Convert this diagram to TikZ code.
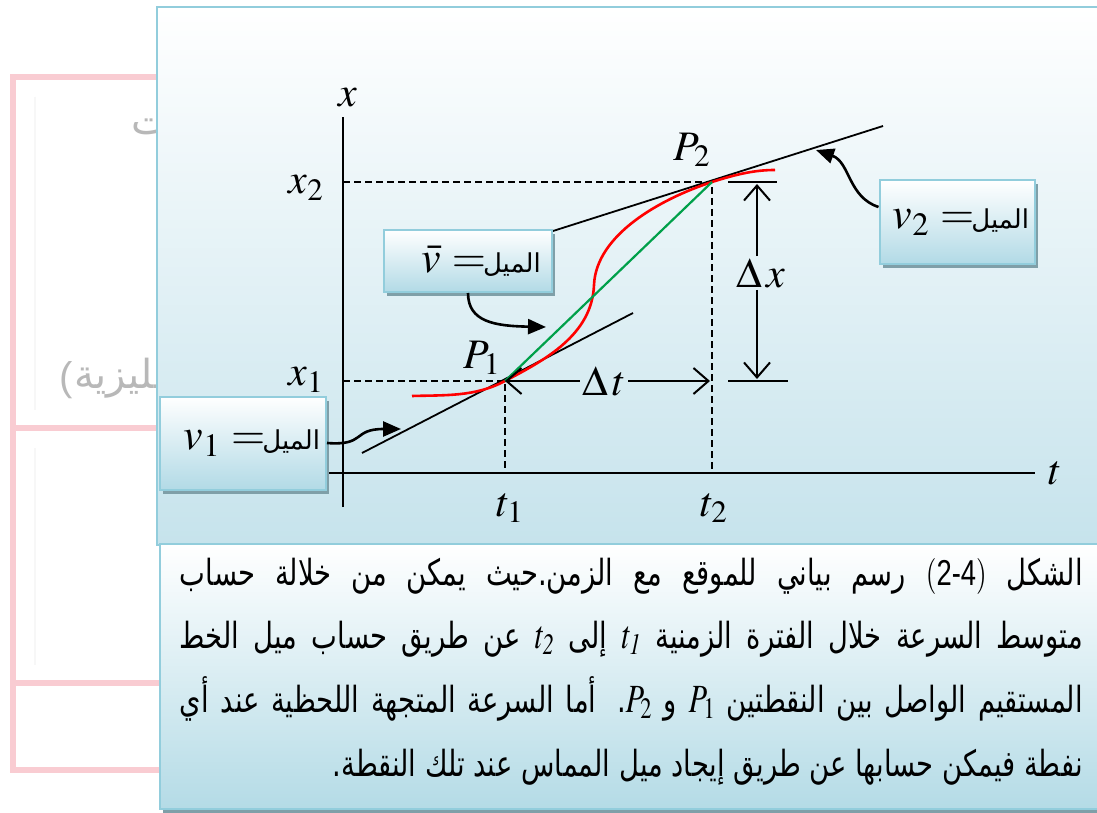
\documentclass[tikz,border=0pt]{standalone}
\usepackage{mathptmx}
\usepackage{fontspec}
\setmainfont{Liberation Serif}
\newfontfamily\arabicfont[Script=Arabic]{DejaVu Sans}
\newfontfamily\latinsans{Liberation Sans}
\TeXXeTstate=1
\usetikzlibrary{arrows.meta, shadows}
\definecolor{edgeblue}{HTML}{92CDDC}
\definecolor{panelblue}{HTML}{C6E3EC}
\definecolor{capblue}{HTML}{B4DBE6}
\definecolor{boxblue}{HTML}{B2DAE6}
\definecolor{shadowc}{HTML}{7F9FA8}
\definecolor{pinkc}{HTML}{F9CCD2}
\definecolor{chordg}{HTML}{00A04A}
\newcommand{\capline}[1]{\scalebox{0.76}[1]{\makebox[1188pt][s]{\beginR #1\endR}}}
\newcommand{\capmath}[1]{\mbox{\fontsize{40}{42}\selectfont$#1$}}
\newcommand{\capsans}[1]{\mbox{\latinsans\fontsize{36}{40}\selectfont #1}}
\newcommand{\mayl}{{\arabicfont\fontsize{26}{30}\selectfont\beginR الميل\endR}}
\tikzset{
    panel/.style={draw=edgeblue, line width=2.5pt, top color=white},
    callout/.style={rectangle, draw=edgeblue, line width=2pt, top color=white, bottom color=boxblue, inner sep=0pt,
        drop shadow={shadow xshift=3pt, shadow yshift=-4pt, fill=shadowc, opacity=1}, font=\fontsize{44}{48}\selectfont},
    lbl/.style={inner sep=2pt, font=\fontsize{42}{46}\selectfont},
    axis/.style={line width=2pt, black},
    guide/.style={dash pattern=on 7pt off 4pt, line width=1.6pt},
    tang/.style={line width=1.8pt, black},
    curv/.style={line width=2.6pt, red},
    chord/.style={line width=2.2pt, chordg},
    dim/.style={line width=2pt, -{Straight Barb[length=15pt,width=26pt]}},
    callarr/.style={line width=2.6pt, -{Triangle[length=18pt,width=15pt]}},
    captxt/.style={inner sep=0pt, font=\arabicfont\fontsize{36}{40}\selectfont},
    ghost/.style={inner sep=0pt, text=black!28, font=\arabicfont\fontsize{40}{44}\selectfont},
    pinkline/.style={line width=6pt, pinkc}
}

\begin{document}
\begin{tikzpicture}[x=1pt, y=-1pt]
    \useasboundingbox (0,0) rectangle (1097,813);
    \fill[white] (0,0) rectangle (1097,813);

    % الصفحة الخلفية
    \draw[pinkline] (13,77) -- (13,770);
    \foreach \yy in {77,428,683,770}
        \draw[pinkline] (10,\yy) -- (160,\yy);
    \draw[black!3, line width=2pt] (35,97) -- (35,410) (35,448) -- (35,665);
    \node[ghost, anchor=west] (gt) at (131,122) {\beginR الكميات\endR};
    \node[ghost, font=\latinsans\fontsize{40}{44}\selectfont] (gp) at (66,380) {(};
    \node[ghost, anchor=west] (gz) at (74,378) {\beginR بالإنجليزية\endR};

    % اللوحتان
    \shade[panel, bottom color=panelblue] (157,7) rectangle (1104,545);
    \fill[shadowc] (163,549) rectangle (1104,813);
    \shade[panel, bottom color=capblue] (160,544) rectangle (1104,809);

    % المحاور
    \coordinate (xtop) at (343,117);
    \coordinate (xbot) at (343,507);
    \coordinate (tleft) at (275,473);
    \coordinate (tright) at (1035,473);
    \draw[axis] (xbot) -- (xtop);
    \draw[axis] (tleft) -- (tright);
    \node[lbl] (xlab) at (348,98) {$x$};
    \node[lbl] (tlab) at (1055,473) {$t$};

    % النقاط
    \coordinate (P1) at (505,381);
    \coordinate (P2) at (712,182);
    \coordinate (x1) at (343,381);
    \coordinate (x2) at (343,182);
    \coordinate (t1) at (505,473);
    \coordinate (t2) at (712,473);
    \draw[guide] (x2) -- (P2) -- (t2);
    \draw[guide] (x1) -- (P1) -- (t1);
    \node[lbl] (x2lab) at (306,188) {$x_2$};
    \node[lbl] (x1lab) at (306,380) {$x_1$};
    \node[lbl] (t1lab) at (510,508) {$t_1$};
    \node[lbl] (t2lab) at (714,508) {$t_2$};
    \node[lbl] (P1lab) at (482,358) {$P_1$};
    \node[lbl] (P2lab) at (692,150) {$P_2$};

    % المماسان
    \coordinate (T1a) at (362,453);
    \coordinate (T1b) at (633,313);
    \coordinate (T2a) at (553,231);
    \coordinate (T2b) at (883,126);
    \draw[tang] (T1a) -- (T1b);
    \draw[tang] (T2a) -- (T2b);

    % المنحنى والوتر
    \coordinate (C0) at (412,396);
    \coordinate (M) at (594,285);
    \coordinate (C9) at (775,170);
    \draw[curv] (C0) .. controls (445,395) and (475,397) .. (P1)
        .. controls (545,360) and (592,335) .. (M)
        .. controls (596,235) and (660,199) .. (P2)
        .. controls (737,174) and (755,170) .. (C9);
    \draw[chord] (P1) -- (P2);

    % دلتا x و دلتا t
    \coordinate (dxtop) at (757,184);
    \coordinate (dxbot) at (757,379);
    \draw[axis] (728,182) -- (777,182);
    \draw[axis] (728,381) -- (788,381);
    \node[lbl] (dx) at (761,273) {$\Delta\,x$};
    \draw[dim] (dx.north -| dxtop) -- (dxtop);
    \draw[dim] (dx.south -| dxbot) -- (dxbot);
    \coordinate (dtend) at (710,381);
    \node[lbl] (dt) at (604,381) {$\Delta\,t$};
    \draw[dim] (dt.west |- P1) -- (P1);
    \draw[dim] (dt.east |- P1) -- (dtend);

    % صناديق الميل
    \node[callout, minimum width=166pt, minimum height=93pt] (v1box) at (243,443)
        {\hspace{18pt}\raisebox{4pt}{$v_1$ $=$\hspace{-3pt}\mayl}};
    \node[callout, minimum width=168pt, minimum height=62pt] (vbox) at (468,261)
        {\hspace{26pt}$\bar{v}$ $=$\hspace{-3pt}\mayl};
    \node[callout, minimum width=155pt, minimum height=83pt] (v2box) at (957,222)
        {\hspace{8pt}$v_2$ $=$\hspace{-3pt}\mayl};
    \coordinate (v1tip) at (401,429);
    \coordinate (vtip) at (546,327);
    \coordinate (v2tip) at (816,150);
    \draw[callarr] (v1box.east) .. controls (366,446) and (352,429) .. (v1tip);
    \draw[callarr] (vbox.south) .. controls (468,322) and (495,326) .. (vtip);
    \draw[callarr] ([yshift=15pt]v2box.west) .. controls (848,197) and (850,162) .. (v2tip);

    % نص الشكل
    \node[captxt, anchor=base east] (cap1) at (1083,585)
        {\capline{الشكل \mbox{\fontsize{36}{40}\selectfont$)$}\capsans{4}\capsans{-}\capsans{2}\mbox{\fontsize{36}{40}\selectfont$($} رسم بياني للموقع مع الزمن.حيث يمكن من خلالة حساب}};
    \node[captxt, anchor=base east] (cap2) at (1083,648)
        {\capline{متوسط السرعة خلال الفترة الزمنية \capmath{t_{\mathit{1}}} إلى \capmath{t_{\mathit{2}}} عن طريق حساب ميل الخط}};
    \node[captxt, anchor=base east] (cap3) at (1083,712)
        {\capline{المستقيم الواصل بين النقطتين \capmath{P_1} و \capmath{P_2}. أما السرعة المتجهة اللحظية عند أي}};
    \node[captxt, anchor=base east] (cap4) at (1083,776)
        {\scalebox{0.76}[1]{\beginR نفطة فيمكن حسابها عن طريق إيجاد ميل المماس عند تلك النقطة.\endR}};
\end{tikzpicture}
\end{document}
